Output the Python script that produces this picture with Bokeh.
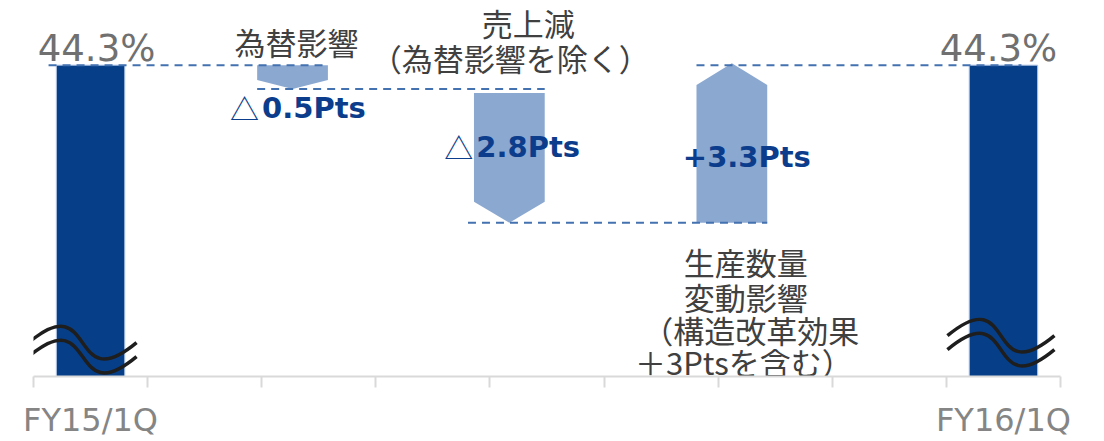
from bokeh.plotting import figure
from bokeh.models import Range1d, FixedTicker
from bokeh.core.properties import value
from bokeh.embed import file_html
from bokeh.resources import INLINE

# ---------------- data ----------------
categories = ["FY15/1Q", "FY16/1Q"]
totals = [44.3, 44.3]
total_texts = ["44.3%", "44.3%"]
step_deltas = [-0.5, -2.8, 3.3]
step_value_texts = ["0.5Pts", "2.8Pts", "+3.3Pts"]
step_value_prefix = ["△", "△", ""]
step1_lines = ["為替影響"]
step2_lines = ["売上減", "（為替影響を除く）"]
step3_lines = ["生産数量", "変動影響", "（構造改革効果", "＋3Ptsを含む）"]

# ---------------- layout ----------------
N_SLOTS = 9
bar_x = [0.5, 8.5]
step_x = [2.27, 4.17, 6.12]
FRAME_W, FRAME_H = 1027, 378
Y0 = totals[0] - 313 / 48
Y1 = totals[0] + 65 / 48
XS = FRAME_W / N_SLOTS
YS = FRAME_H / (Y1 - Y0)


def dx(px):
    return px / XS


def dy(px):
    return px / YS


DARK = "#063f88"
LIGHT = "#8ba8d0"
DASH = "#4472b0"
GRAY_T = "#404040"
BLUE_T = "#0b3d8c"
JP = value("Noto Sans CJK JP")
LAT = value("DejaVu Sans")

p = figure(width=1104, height=441, x_range=Range1d(0, N_SLOTS), y_range=Range1d(Y0, Y1),
           output_backend="svg", toolbar_location=None, y_axis_location=None,
           min_border_left=33, min_border_right=44, min_border_top=0, min_border_bottom=63)
p.xgrid.visible = False
p.ygrid.visible = False
p.outline_line_color = None
p.background_fill_color = "white"
p.border_fill_color = "white"

ax = p.xaxis[0]
ax.ticker = FixedTicker(ticks=bar_x, minor_ticks=list(range(N_SLOTS + 1)))
ax.major_label_overrides = {b: c for b, c in zip(bar_x, categories)}
ax.major_label_text_font = "DejaVu Sans"
ax.major_label_text_font_size = "32px"
ax.major_label_text_color = "#858585"
ax.major_tick_line_color = None
ax.major_tick_out = 0
ax.major_tick_in = 0
ax.major_label_standoff = 13
ax.axis_line_color = "#d9d9d9"
ax.axis_line_width = 2
ax.minor_tick_line_color = "#d9d9d9"
ax.minor_tick_line_width = 2
ax.minor_tick_out = 11
ax.minor_tick_in = 0

# total bars
p.vbar(x=bar_x, top=totals, bottom=Y0, width=0.6, fill_color=DARK,
       line_color="#b4c7e7", line_width=1)

# step arrows
HW = 0.31
top_gap_px = [0, 4, 0]
head_px = [9, 21, 22]
levels = [totals[0]]
xs_list, ys_list = [], []
for i, d in enumerate(step_deltas):
    start = levels[-1]
    end = start + d
    levels.append(end)
    xc = step_x[i]
    xl, xr = xc - HW, xc + HW
    h = dy(head_px[i])
    if d < 0:
        top = start - dy(top_gap_px[i])
        xs_list.append([xl, xr, xr, xc, xl])
        ys_list.append([top, top, end + h, end, end + h])
    else:
        bot = start
        tip = end + dy(2)
        xs_list.append([xl, xr, xr, xc, xl])
        ys_list.append([bot, bot, tip - h, tip, tip - h])
p.patches(xs_list, ys_list, fill_color=LIGHT, line_color=None)

# dashed connectors
items_left = [bar_x[0] - dx(42)] + [x - HW for x in step_x]
items_right = [x + HW for x in step_x] + [bar_x[1] + dx(18)]
seg_x0 = [items_left[0], items_left[1], items_left[2] - dx(6), items_left[3]]
seg_x1 = items_right
p.segment(x0=seg_x0, y0=levels, x1=seg_x1, y1=levels, line_color=DASH,
          line_width=2, line_dash="8 6")

# axis break waves
wave_y_px = [34, 41]
wave_l_px = [62, 56]
wave_r_px = [46, 51]
bx0, by0, bx1, by1, cx0, cy0, cx1, cy1 = [], [], [], [], [], [], [], []
for j, b in enumerate(bar_x):
    for k in range(2):
        yc = Y0 + dy(wave_y_px[j] - 14 * k)
        s = b - dx(wave_l_px[j])
        e = b + dx(wave_r_px[j])
        bx0.append(s); by0.append(yc)
        bx1.append(e); by1.append(yc)
        cx0.append(s + dx(68)); cy0.append(yc + dy(57))
        cx1.append(e - dx(68)); cy1.append(yc - dy(57))
p.bezier(x0=bx0, y0=by0, x1=bx1, y1=by1, cx0=cx0, cy0=cy0, cx1=cx1, cy1=cy1,
         line_color="#1e1e1e", line_width=3.5)

# total value labels
p.text(x=[bar_x[0] + dx(6), bar_x[1] - dx(5)], y=[t + dy(17) for t in totals], text=total_texts,
       text_align="center", text_baseline="middle", text_font=LAT,
       text_font_size="37px", text_color="#707070")

# step descriptions
gx, gy, gt = [], [], []
gx.append(step_x[0] + dx(4)); gy.append(levels[0] + dy(23.5)); gt.append(step1_lines[0])
gx += [step_x[1] + dx(19), step_x[1] + dx(1)]
gy += [levels[0] + dy(42.5), levels[0] + dy(8)]
gt += step2_lines
off3_x = [14, 14, 19, 12]
off3_y = [39, 74, 107, 140]
for t, ox, oy in zip(step3_lines, off3_x, off3_y):
    gx.append(step_x[2] + dx(ox)); gy.append(levels[2] - dy(oy)); gt.append(t)
p.text(x=gx, y=gy, text=gt, text_align="center", text_baseline="middle", text_font=JP,
       text_font_size="31px", text_color=GRAY_T)

# step values
val_left_x = [step_x[0] - dx(30.5), step_x[1] - dx(33)]
val_y = [levels[1] - dy(19), levels[1] - dy(58.5)]
p.text(x=val_left_x, y=val_y, text=step_value_texts[:2], text_align="left",
       text_baseline="middle", text_font=LAT, text_font_style="bold",
       text_font_size="29px", text_color=BLUE_T)
p.text(x=[v - dx(3) for v in val_left_x], y=val_y, text=step_value_prefix[:2], text_align="right",
       text_baseline="middle", text_font=JP, text_font_size="29px", text_color=BLUE_T)
p.text(x=[step_x[2] + dx(15)], y=[levels[2] + dy(66)], text=[step_value_texts[2]],
       text_align="center", text_baseline="middle", text_font=LAT, text_font_style="bold",
       text_font_size="29px", text_color=BLUE_T)

open("out.html", "w").write(file_html(p, INLINE))
